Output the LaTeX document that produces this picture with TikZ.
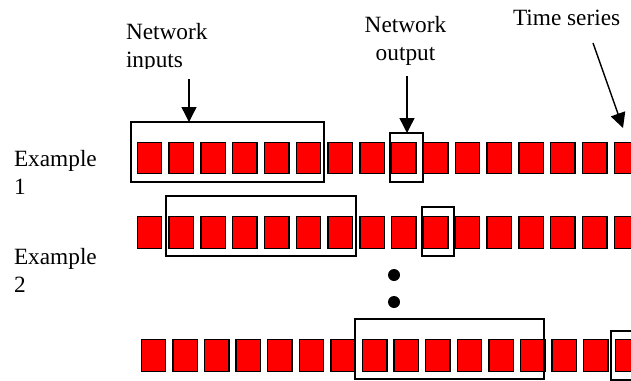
\documentclass[tikz,border=0pt]{standalone}
\usepackage{fontspec}
\setmainfont{Liberation Serif}
\usetikzlibrary{arrows.meta}
\begin{document}
\begin{tikzpicture}[x=1pt,y=-1pt,
  cell/.style={draw=black,fill=red,line width=1.4pt,minimum width=24.5pt,minimum height=31.5pt,inner sep=0pt,outer sep=0pt},
  frame/.style={draw=black,line width=1.3pt,inner sep=0pt,outer sep=0pt},
  lbl/.style={inner sep=0pt,outer sep=0pt,font=\fontsize{23.3}{28}\selectfont},
  arr/.style={line width=1.4pt,-{Triangle[length=15pt,width=15pt]}},
  dotm/.style={fill=black}]
\useasboundingbox (0,0) rectangle (631,380);
% labels (base anchor = baseline of the last line)
\node[lbl,anchor=base west,align=left] (ex1) at (14,194) {Example\\1};
\node[lbl,anchor=base west,align=left] (ex2) at (14,292) {Example\\2};
\begin{scope}
\clip (0,0) rectangle (631,68);
\node[lbl,anchor=base west,align=left] (inlab) at (126,67.3) {Network\\inputs};
\end{scope}
\node[lbl,anchor=base,align=center] (outlab) at (405.5,60) {Network\\output};
\node[lbl,anchor=base west] (tslab) at (513,25) {Time series};
% cells
\foreach \i in {0,...,15}{
  \node[cell] (a\i) at ({149.5+31.8*\i},158) {};
  \node[cell] (b\i) at ({149.5+31.8*\i},232.5) {};
  \node[cell] (c\i) at ({153.5+31.6*\i},355.5) {};
}
% frames
\node[frame,minimum width=193pt,minimum height=60pt] (in1) at (227.5,152) {};
\node[frame,minimum width=33pt,minimum height=49pt] (out1) at (406.5,157.5) {};
\node[frame,minimum width=190pt,minimum height=60pt] (in2) at (261,226) {};
\node[frame,minimum width=32pt,minimum height=49pt] (out2) at (438,231.5) {};
\node[frame,minimum width=189pt,minimum height=60pt] (in3) at (449.5,349) {};
\node[frame,minimum width=33pt,minimum height=49pt] (out3) at (627.5,355.5) {};
% dots
\fill[dotm] (394,275) circle (6pt);
\fill[dotm] (394,302) circle (6pt);
% arrows
\coordinate (ainS) at (189,79);
\coordinate (aoutS) at (407,76);
\coordinate (atsS) at (593,43);
\coordinate (atsE) at (623,128);
\draw[arr] (ainS) -- (ainS |- in1.north);
\draw[arr] (aoutS) -- (aoutS |- out1.north);
\draw[arr] (atsS) -- (atsE);
\end{tikzpicture}
\end{document}
